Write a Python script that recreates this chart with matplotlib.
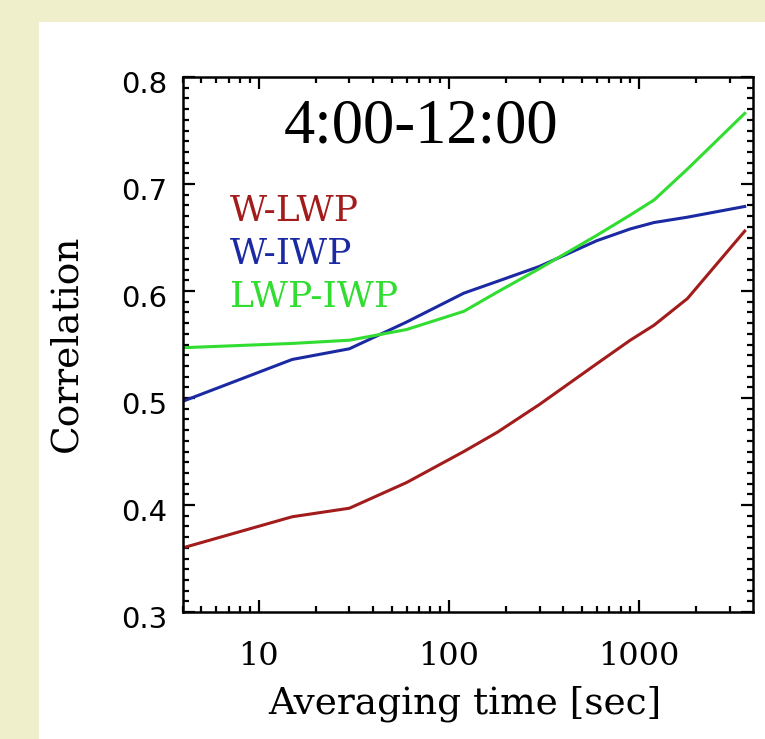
import numpy as np
import matplotlib
matplotlib.use("Agg")
import matplotlib.pyplot as plt
from matplotlib.patches import Rectangle
from matplotlib.transforms import ScaledTranslation
from matplotlib.ticker import LogLocator, MultipleLocator, NullFormatter, FixedLocator, FixedFormatter


# averaging times [sec]
avg_time = [4, 15, 30, 60, 120, 180, 300, 600, 900, 1200, 1800, 3600]

w_lwp = [0.360, 0.389, 0.397, 0.421, 0.450, 0.468, 0.494, 0.532, 0.554, 0.568, 0.593, 0.656]
w_iwp = [0.497, 0.536, 0.546, 0.571, 0.598, 0.609, 0.623, 0.647, 0.658, 0.664, 0.669, 0.679]
lwp_iwp = [0.547, 0.551, 0.554, 0.564, 0.581, 0.599, 0.621, 0.652, 0.671, 0.685, 0.714, 0.766]

series_names = ["W-LWP", "W-IWP", "LWP-IWP"]
series_colors = ["#a31c1c", "#1b2aa3", "#30dd30"]

x_ticks = [10, 100, 1000]
x_tick_labels = ["10", "100", "1000"]
y_ticks = [0.3, 0.4, 0.5, 0.6, 0.7, 0.8]
y_tick_labels = ["0.3", "0.4", "0.5", "0.6", "0.7", "0.8"]

title_text = "4:00-12:00"


fig = plt.figure(figsize=(7.65, 7.39), dpi=100)
fig.patch.set_facecolor("#efefcb")

# white panel behind the axes
fig.patches.append(Rectangle((39 / 765, 0), 1, 1 - 22 / 739,
                             transform=fig.transFigure, facecolor="white",
                             edgecolor="none", zorder=-10))

ax = fig.add_axes([183 / 765, 1 - 612 / 739, 570 / 765, 535 / 739])
ax.set_facecolor("white")

for values, color in zip([w_lwp, w_iwp, lwp_iwp], series_colors):
    ax.plot(avg_time, values, color=color, linewidth=2.2, solid_joinstyle="round")

ax.set_xscale("log")
ax.set_xlim(4, 3980)
ax.set_ylim(0.3, 0.8)

ax.xaxis.set_major_locator(FixedLocator(x_ticks))
ax.xaxis.set_major_formatter(FixedFormatter(x_tick_labels))
ax.xaxis.set_minor_locator(LogLocator(base=10, subs=np.arange(2, 10)))
ax.xaxis.set_minor_formatter(NullFormatter())

ax.yaxis.set_major_locator(FixedLocator(y_ticks))
ax.yaxis.set_major_formatter(FixedFormatter(y_tick_labels))
ax.yaxis.set_minor_locator(MultipleLocator(0.01))

for spine in ax.spines.values():
    spine.set_linewidth(1.8)

ax.tick_params(which="both", direction="in", top=True, right=True, width=1.6)
ax.tick_params(which="major", length=8.5)
ax.tick_params(which="minor", length=4)
ax.tick_params(axis="x", which="major", pad=21, labelsize=23)
ax.tick_params(axis="y", which="major", pad=11, labelsize=21)

for lab in ax.get_xticklabels():
    lab.set_family("DejaVu Serif")

# y labels sit a little below their ticks in the original
shift = ScaledTranslation(0, -5 / 100, fig.dpi_scale_trans)
for lab in ax.get_yticklabels():
    lab.set_family("DejaVu Sans")
    lab.set_transform(lab.get_transform() + shift)

ax.set_xlabel("Averaging time [sec]", family="DejaVu Serif", fontsize=27)
ax.xaxis.set_label_coords(0.4947, -0.1888)
ax.xaxis.label.set_va("baseline")

ax.set_ylabel("Correlation", family="DejaVu Serif", fontsize=27)
ax.yaxis.set_label_coords(-0.205, 0.503)
ax.yaxis.label.set_va("center")

ax.text(0.4175, 0.8785, title_text, transform=ax.transAxes, ha="center",
        va="baseline", family="Liberation Serif", fontsize=45)

legend_y = [0.731, 0.650, 0.570]
for name, color, ly in zip(series_names, series_colors, legend_y):
    ax.text(0.0825, ly, name, transform=ax.transAxes, ha="left", va="baseline",
            family="DejaVu Serif", fontsize=26, color=color)

fig.savefig("out.png", dpi=100, facecolor=fig.get_facecolor())
